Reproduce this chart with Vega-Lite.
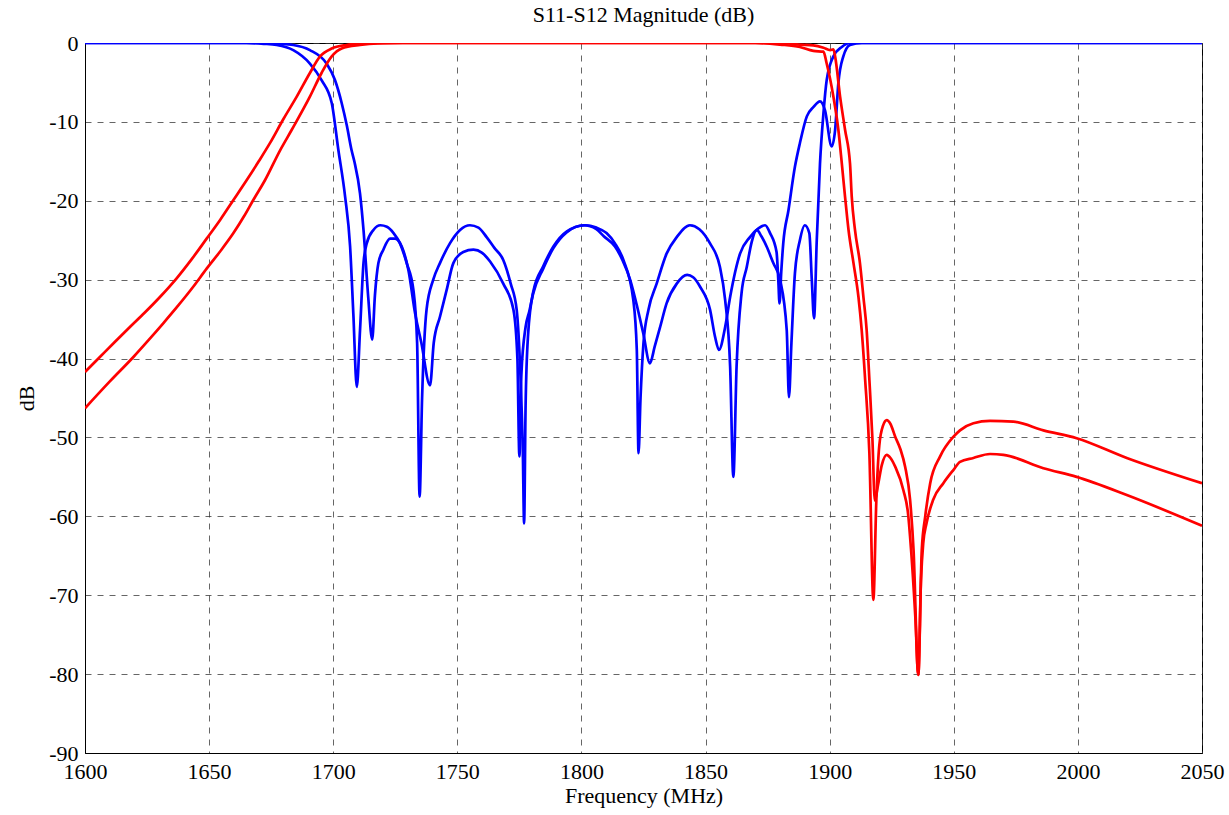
{
  "$schema": "https://vega.github.io/schema/vega-lite/v6.json",
  "autosize": {"type": "none"},
  "width": 1117,
  "height": 710,
  "padding": {"left": 85, "top": 43, "right": 27, "bottom": 62},
  "background": "white",
  "config": {
    "font": "Liberation Serif",
    "view": {"stroke": "black", "strokeWidth": 1},
    "axis": {
      "domainColor": "black",
      "ticks": false,
      "labelFont": "Liberation Serif",
      "labelFontSize": 22,
      "labelColor": "black",
      "titleFont": "Liberation Serif",
      "titleFontSize": 22,
      "titleFontWeight": "normal",
      "titleColor": "black",
      "gridColor": "#333333",
      "gridOpacity": 0.75,
      "gridDash": [6, 6],
      "gridWidth": 1
    },
    "title": {"font": "Liberation Serif", "fontSize": 22, "fontWeight": "normal", "color": "black", "offset": 5}
  },
  "title": "S11-S12 Magnitude (dB)",
  "data": {"values": [
    {"s":"P","f":1600,"db":0},{"s":"P","f":1665,"db":0},{"s":"P","f":1672,"db":-0.1},{"s":"P","f":1677.2,"db":-0.25},{"s":"P","f":1683.9,"db":-0.9},{"s":"P","f":1690.6,"db":-2.6},{"s":"P","f":1695.3,"db":-4.7},{"s":"P","f":1699.4,"db":-7.6},{"s":"P","f":1702,"db":-13.4},{"s":"P","f":1704.8,"db":-19.5},{"s":"P","f":1706.8,"db":-25.8},{"s":"P","f":1708.1,"db":-34.3},{"s":"P","f":1709.5,"db":-43.6},{"s":"P","f":1710.8,"db":-36.4},{"s":"P","f":1712.2,"db":-27.9},{"s":"P","f":1713.5,"db":-25.4},{"s":"P","f":1716.2,"db":-23.7},{"s":"P","f":1719,"db":-23.1},{"s":"P","f":1721.6,"db":-23.3},{"s":"P","f":1724.3,"db":-24.1},{"s":"P","f":1726.9,"db":-25.4},{"s":"P","f":1729.6,"db":-27.9},{"s":"P","f":1732.3,"db":-31.3},{"s":"P","f":1733.8,"db":-38},{"s":"P","f":1734.8,"db":-57.5},{"s":"P","f":1735.8,"db":-45},{"s":"P","f":1737.6,"db":-33.8},{"s":"P","f":1740.3,"db":-30},{"s":"P","f":1743,"db":-27.9},{"s":"P","f":1747,"db":-25.4},{"s":"P","f":1751.1,"db":-23.7},{"s":"P","f":1755.1,"db":-23.1},{"s":"P","f":1758.5,"db":-23.4},{"s":"P","f":1761.8,"db":-24.6},{"s":"P","f":1765,"db":-26},{"s":"P","f":1768.5,"db":-27.5},{"s":"P","f":1771.5,"db":-30.5},{"s":"P","f":1773.9,"db":-33.8},{"s":"P","f":1775.4,"db":-42},{"s":"P","f":1776.4,"db":-52},{"s":"P","f":1776.9,"db":-60.9},{"s":"P","f":1777.5,"db":-46},{"s":"P","f":1778.5,"db":-37},{"s":"P","f":1780.6,"db":-31.5},{"s":"P","f":1784.6,"db":-28.3},{"s":"P","f":1788.7,"db":-25.8},{"s":"P","f":1794,"db":-23.9},{"s":"P","f":1801.5,"db":-23.1},{"s":"P","f":1806,"db":-23.4},{"s":"P","f":1810.1,"db":-24.1},{"s":"P","f":1813.5,"db":-25.4},{"s":"P","f":1816.9,"db":-27.5},{"s":"P","f":1820.9,"db":-32.6},{"s":"P","f":1822.3,"db":-38.9},{"s":"P","f":1823,"db":-52},{"s":"P","f":1823.8,"db":-45},{"s":"P","f":1825,"db":-38},{"s":"P","f":1827,"db":-33.8},{"s":"P","f":1830.3,"db":-30.5},{"s":"P","f":1834.3,"db":-26.7},{"s":"P","f":1838.4,"db":-24.6},{"s":"P","f":1843.7,"db":-23.1},{"s":"P","f":1847.5,"db":-23.6},{"s":"P","f":1851.8,"db":-25.4},{"s":"P","f":1855.8,"db":-28.4},{"s":"P","f":1857.9,"db":-32.6},{"s":"P","f":1859.9,"db":-41},{"s":"P","f":1861.2,"db":-55},{"s":"P","f":1862.5,"db":-41},{"s":"P","f":1864.5,"db":-31.7},{"s":"P","f":1866.6,"db":-28.4},{"s":"P","f":1868.6,"db":-25.2},{"s":"P","f":1870.6,"db":-23.7},{"s":"P","f":1872.5,"db":-24.5},{"s":"P","f":1874.6,"db":-25.8},{"s":"P","f":1877.3,"db":-27.9},{"s":"P","f":1880,"db":-30},{"s":"P","f":1882.7,"db":-36.4},{"s":"P","f":1883.6,"db":-44.9},{"s":"P","f":1884.6,"db":-38},{"s":"P","f":1886,"db":-29.2},{"s":"P","f":1888,"db":-25},{"s":"P","f":1890,"db":-23.1},{"s":"P","f":1891.8,"db":-24.1},{"s":"P","f":1892.8,"db":-30},{"s":"P","f":1893.7,"db":-34.9},{"s":"P","f":1894.8,"db":-25},{"s":"P","f":1896.1,"db":-15.3},{"s":"P","f":1897.5,"db":-8.9},{"s":"P","f":1898.8,"db":-4.7},{"s":"P","f":1901.5,"db":-1.7},{"s":"P","f":1904.9,"db":-0.5},{"s":"P","f":1908,"db":0},{"s":"P","f":2050,"db":0},
    {"s":"Q","f":1600,"db":0},{"s":"Q","f":1670,"db":0},{"s":"Q","f":1678,"db":-0.1},{"s":"Q","f":1683.9,"db":-0.25},{"s":"Q","f":1690.6,"db":-0.9},{"s":"Q","f":1697.3,"db":-2.6},{"s":"Q","f":1700.7,"db":-4.7},{"s":"Q","f":1703.4,"db":-7.6},{"s":"Q","f":1705.5,"db":-10.5},{"s":"Q","f":1707.4,"db":-13.6},{"s":"Q","f":1708.5,"db":-15},{"s":"Q","f":1710.8,"db":-19.1},{"s":"Q","f":1712.2,"db":-23.7},{"s":"Q","f":1714.1,"db":-32.2},{"s":"Q","f":1715.7,"db":-37.6},{"s":"Q","f":1716.8,"db":-32},{"s":"Q","f":1718.2,"db":-27.9},{"s":"Q","f":1720.2,"db":-26.2},{"s":"Q","f":1722.9,"db":-24.8},{"s":"Q","f":1724.9,"db":-24.8},{"s":"Q","f":1727.6,"db":-25.8},{"s":"Q","f":1730.3,"db":-28.8},{"s":"Q","f":1733,"db":-34.3},{"s":"Q","f":1735.5,"db":-38},{"s":"Q","f":1739,"db":-43.4},{"s":"Q","f":1740.5,"db":-38},{"s":"Q","f":1743,"db":-34.7},{"s":"Q","f":1745.7,"db":-31.3},{"s":"Q","f":1748.4,"db":-27.9},{"s":"Q","f":1752.4,"db":-26.5},{"s":"Q","f":1756.5,"db":-26.2},{"s":"Q","f":1760,"db":-26.6},{"s":"Q","f":1763.2,"db":-27.7},{"s":"Q","f":1768.5,"db":-30.5},{"s":"Q","f":1772.6,"db":-33.8},{"s":"Q","f":1774.2,"db":-40},{"s":"Q","f":1775,"db":-52.4},{"s":"Q","f":1775.8,"db":-42},{"s":"Q","f":1777.5,"db":-36},{"s":"Q","f":1779,"db":-34},{"s":"Q","f":1780.6,"db":-31.7},{"s":"Q","f":1784.6,"db":-28.6},{"s":"Q","f":1788.7,"db":-26},{"s":"Q","f":1794,"db":-24},{"s":"Q","f":1801,"db":-23.1},{"s":"Q","f":1806,"db":-23.6},{"s":"Q","f":1809,"db":-24.5},{"s":"Q","f":1813.5,"db":-25.8},{"s":"Q","f":1816.5,"db":-27.5},{"s":"Q","f":1819.6,"db":-30},{"s":"Q","f":1822.5,"db":-33.5},{"s":"Q","f":1824.9,"db":-36.8},{"s":"Q","f":1827.6,"db":-40.6},{"s":"Q","f":1829.5,"db":-38.5},{"s":"Q","f":1831.7,"db":-36},{"s":"Q","f":1834.3,"db":-33},{"s":"Q","f":1838.4,"db":-30.5},{"s":"Q","f":1842.6,"db":-29.4},{"s":"Q","f":1845,"db":-29.7},{"s":"Q","f":1847.8,"db":-30.9},{"s":"Q","f":1851.8,"db":-33.8},{"s":"Q","f":1853.8,"db":-37.2},{"s":"Q","f":1855.4,"db":-38.9},{"s":"Q","f":1857.9,"db":-36},{"s":"Q","f":1859.9,"db":-32.2},{"s":"Q","f":1863.9,"db":-26.7},{"s":"Q","f":1867.9,"db":-24.6},{"s":"Q","f":1871.3,"db":-23.5},{"s":"Q","f":1874,"db":-23.1},{"s":"Q","f":1876,"db":-24.1},{"s":"Q","f":1878.6,"db":-26.5},{"s":"Q","f":1879.3,"db":-30},{"s":"Q","f":1879.8,"db":-33},{"s":"Q","f":1880.5,"db":-29},{"s":"Q","f":1881.3,"db":-25.4},{"s":"Q","f":1883.4,"db":-21.2},{"s":"Q","f":1886,"db":-15.7},{"s":"Q","f":1888,"db":-12.7},{"s":"Q","f":1890.8,"db":-9.3},{"s":"Q","f":1893.5,"db":-8.1},{"s":"Q","f":1896.1,"db":-7.4},{"s":"Q","f":1898.1,"db":-8.5},{"s":"Q","f":1900.8,"db":-13.1},{"s":"Q","f":1902.2,"db":-11},{"s":"Q","f":1903.5,"db":-5.1},{"s":"Q","f":1905.5,"db":-1.7},{"s":"Q","f":1908.2,"db":-0.25},{"s":"Q","f":1913,"db":0},{"s":"Q","f":2050,"db":0},
    {"s":"R1","f":1600,"db":-41.7},{"s":"R1","f":1606,"db":-39.8},{"s":"R1","f":1612,"db":-37.9},{"s":"R1","f":1618.1,"db":-36},{"s":"R1","f":1624,"db":-34.2},{"s":"R1","f":1630.2,"db":-32.2},{"s":"R1","f":1637,"db":-29.8},{"s":"R1","f":1643,"db":-27.4},{"s":"R1","f":1649,"db":-24.8},{"s":"R1","f":1654.5,"db":-22.4},{"s":"R1","f":1659.8,"db":-19.9},{"s":"R1","f":1665.1,"db":-17.4},{"s":"R1","f":1670,"db":-15},{"s":"R1","f":1674.5,"db":-12.7},{"s":"R1","f":1680,"db":-9.6},{"s":"R1","f":1685.3,"db":-6.8},{"s":"R1","f":1690.6,"db":-3.8},{"s":"R1","f":1694.7,"db":-1.7},{"s":"R1","f":1699.4,"db":-0.7},{"s":"R1","f":1705.4,"db":-0.25},{"s":"R1","f":1712,"db":-0.05},{"s":"R1","f":1720,"db":0},{"s":"R1","f":1870,"db":0},{"s":"R1","f":1880,"db":-0.2},{"s":"R1","f":1888,"db":-0.5},{"s":"R1","f":1893.4,"db":-1.0},{"s":"R1","f":1897.5,"db":-1.1},{"s":"R1","f":1898.8,"db":-2.6},{"s":"R1","f":1901.5,"db":-6.8},{"s":"R1","f":1903.5,"db":-11},{"s":"R1","f":1904.9,"db":-15.3},{"s":"R1","f":1906.2,"db":-19.5},{"s":"R1","f":1907.6,"db":-23.7},{"s":"R1","f":1909.6,"db":-27.9},{"s":"R1","f":1911.6,"db":-32.2},{"s":"R1","f":1912.9,"db":-36.4},{"s":"R1","f":1914.3,"db":-42.7},{"s":"R1","f":1916,"db":-52},{"s":"R1","f":1917.6,"db":-70.6},{"s":"R1","f":1918.8,"db":-58},{"s":"R1","f":1920,"db":-51},{"s":"R1","f":1921.5,"db":-48.5},{"s":"R1","f":1923,"db":-47.8},{"s":"R1","f":1924.5,"db":-48.3},{"s":"R1","f":1926.4,"db":-49.9},{"s":"R1","f":1928.5,"db":-51.5},{"s":"R1","f":1930.4,"db":-53.7},{"s":"R1","f":1932.4,"db":-57.9},{"s":"R1","f":1933.8,"db":-64.3},{"s":"R1","f":1935.7,"db":-80.1},{"s":"R1","f":1937.1,"db":-64.3},{"s":"R1","f":1938.5,"db":-60},{"s":"R1","f":1940.5,"db":-55.8},{"s":"R1","f":1944.5,"db":-52.4},{"s":"R1","f":1949.9,"db":-49.9},{"s":"R1","f":1952.5,"db":-49.1},{"s":"R1","f":1957.9,"db":-48.2},{"s":"R1","f":1964.6,"db":-47.9},{"s":"R1","f":1974,"db":-48.0},{"s":"R1","f":1986.1,"db":-49.1},{"s":"R1","f":1999.5,"db":-50.1},{"s":"R1","f":2019.7,"db":-52.6},{"s":"R1","f":2050,"db":-55.8},
    {"s":"R2","f":1600,"db":-46.3},{"s":"R2","f":1610,"db":-42.9},{"s":"R2","f":1619.5,"db":-39.8},{"s":"R2","f":1625.5,"db":-37.7},{"s":"R2","f":1631.6,"db":-35.5},{"s":"R2","f":1637.5,"db":-33.3},{"s":"R2","f":1643.6,"db":-30.9},{"s":"R2","f":1649,"db":-28.6},{"s":"R2","f":1654.5,"db":-26.4},{"s":"R2","f":1659.8,"db":-24.1},{"s":"R2","f":1664,"db":-22},{"s":"R2","f":1667.8,"db":-19.9},{"s":"R2","f":1672.5,"db":-17.4},{"s":"R2","f":1678.6,"db":-13.6},{"s":"R2","f":1683.3,"db":-11},{"s":"R2","f":1690.6,"db":-6.8},{"s":"R2","f":1695.3,"db":-3.8},{"s":"R2","f":1699.4,"db":-1.7},{"s":"R2","f":1703.4,"db":-0.7},{"s":"R2","f":1710.8,"db":-0.25},{"s":"R2","f":1718,"db":-0.05},{"s":"R2","f":1728,"db":0},{"s":"R2","f":1880,"db":0},{"s":"R2","f":1888,"db":-0.2},{"s":"R2","f":1893.4,"db":-0.3},{"s":"R2","f":1897.5,"db":-0.6},{"s":"R2","f":1900.2,"db":-0.9},{"s":"R2","f":1901.5,"db":-0.8},{"s":"R2","f":1902.2,"db":-1.7},{"s":"R2","f":1904.2,"db":-6.8},{"s":"R2","f":1906.2,"db":-11},{"s":"R2","f":1908.2,"db":-15.3},{"s":"R2","f":1908.9,"db":-19.5},{"s":"R2","f":1910.2,"db":-23.7},{"s":"R2","f":1912.2,"db":-27.9},{"s":"R2","f":1913.6,"db":-32.2},{"s":"R2","f":1914.9,"db":-36.4},{"s":"R2","f":1916,"db":-42.7},{"s":"R2","f":1917.2,"db":-50},{"s":"R2","f":1918.2,"db":-58},{"s":"R2","f":1919.5,"db":-56},{"s":"R2","f":1921,"db":-53.5},{"s":"R2","f":1923,"db":-52.2},{"s":"R2","f":1924.5,"db":-52.6},{"s":"R2","f":1926.4,"db":-53.7},{"s":"R2","f":1929.7,"db":-56.7},{"s":"R2","f":1931.7,"db":-60},{"s":"R2","f":1932.4,"db":-62.6},{"s":"R2","f":1934.5,"db":-72.7},{"s":"R2","f":1935.7,"db":-80.1},{"s":"R2","f":1936.8,"db":-68},{"s":"R2","f":1937.7,"db":-63.4},{"s":"R2","f":1939,"db":-60.9},{"s":"R2","f":1941.7,"db":-57.9},{"s":"R2","f":1945.8,"db":-55.8},{"s":"R2","f":1949.9,"db":-54.1},{"s":"R2","f":1952.5,"db":-53.1},{"s":"R2","f":1957.9,"db":-52.6},{"s":"R2","f":1964.6,"db":-52.1},{"s":"R2","f":1970,"db":-52.2},{"s":"R2","f":1986.1,"db":-53.9},{"s":"R2","f":1999.5,"db":-55.0},{"s":"R2","f":2019.7,"db":-57.3},{"s":"R2","f":2050,"db":-61.2}
  ]},
  "encoding": {
    "x": {"field": "f", "type": "quantitative", "title": "Frequency (MHz)",
          "scale": {"domain": [1600, 2050], "nice": false, "zero": false},
          "axis": {"values": [1600,1650,1700,1750,1800,1850,1900,1950,2000,2050], "labelExpr": "'' + datum.value", "labelPadding": 8, "titlePadding": 3, "labelFlush": false}},
    "y": {"field": "db", "type": "quantitative", "title": "dB",
          "scale": {"domain": [-90, 0], "nice": false, "zero": false},
          "axis": {"values": [0,-10,-20,-30,-40,-50,-60,-70,-80,-90], "labelExpr": "'' + datum.value", "labelPadding": 7, "titlePadding": 10}},
    "detail": {"field": "s"},
    "color": {"field": "s", "type": "nominal", "legend": null,
              "scale": {"domain": ["P","Q","R1","R2"], "range": ["#0000ff","#0000ff","#ff0000","#ff0000"]}}
  },
  "layer": [
    {"transform": [{"filter": "datum.s == 'P' || datum.s == 'Q'"}],
     "mark": {"type": "line", "strokeWidth": 2.7, "clip": true, "interpolate": "monotone"}},
    {"transform": [{"filter": "datum.s == 'R1' || datum.s == 'R2'"}],
     "mark": {"type": "line", "strokeWidth": 2.7, "clip": true, "interpolate": "monotone"}}
  ]
}
